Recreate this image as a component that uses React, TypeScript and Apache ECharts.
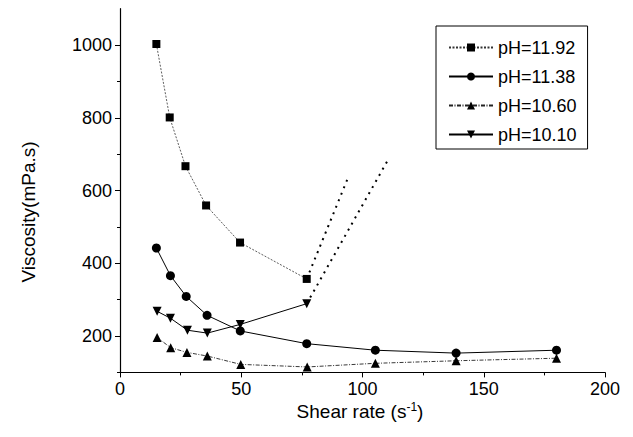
import React, { useEffect, useRef } from "react";
import * as echarts from "echarts";

const names = ["pH=11.92", "pH=11.38", "pH=10.60", "pH=10.10"];
const x1192 = [15, 20.5, 27, 35.5, 49.5, 77];
const y1192 = [1003, 801, 667, 559, 457, 357];
const x1138 = [15, 20.8, 27.3, 35.9, 49.6, 77, 105.3, 138.6, 180];
const y1138 = [442, 366, 309, 257, 214, 179, 161, 153, 161];
const x1060 = [15.3, 20.9, 27.6, 36, 49.8, 77.2, 105.3, 138.6, 180];
const y1060 = [196, 168, 155, 145, 122, 115, 125, 132, 139];
const x1010 = [15.3, 20.8, 27.8, 36, 49.6, 77];
const y1010 = [268, 249, 216, 208, 232, 289];
const ext1192x = [77, 94.2];
const ext1192y = [357, 638];
const ext1010x = [77, 111];
const ext1010y = [289, 690];
const yMajorTicks = [200, 400, 600, 800, 1000];
const yMinorTicks = [100, 300, 500, 700, 900];

const zip = (xs: number[], ys: number[]) => xs.map((x, i) => [x, ys[i]]);

const FONT = "Liberation Sans";

export default function App() {
  const ref = useRef<HTMLDivElement>(null);
  useEffect(() => {
    if (!ref.current) return;
    const chart = echarts.init(ref.current, null, { renderer: "svg" });
    const lineBase = { color: "#000", width: 1 };
    chart.setOption({
      animation: false,
      backgroundColor: "#fff",
      textStyle: { fontFamily: FONT, color: "#000" },
      grid: { left: 120, right: 28, top: 8.7, bottom: 64.6, containLabel: false },
      xAxis: {
        type: "value",
        min: 0,
        max: 200,
        interval: 50,
        axisLine: { show: true, lineStyle: { color: "#000", width: 1.2 } },
        axisTick: { show: true, length: 5, lineStyle: { color: "#000" } },
        minorTick: { show: true, splitNumber: 2, length: 3, lineStyle: { color: "#000" } },
        splitLine: { show: false },
        axisLabel: { fontSize: 18, color: "#000", margin: 8, fontFamily: FONT },
      },
      yAxis: [
        {
          type: "value",
          min: 100,
          max: 1100,
          interval: 100,
          axisLine: { show: true, lineStyle: { color: "#000", width: 1.2 } },
          axisTick: { show: true, length: 5, customValues: yMajorTicks, lineStyle: { color: "#000" } },
          splitLine: { show: false },
          axisLabel: {
            fontSize: 18,
            color: "#000",
            margin: 8,
            customValues: yMajorTicks,
            fontFamily: FONT,
            formatter: (v: number) => String(v),
          },
        },
        {
          type: "value",
          min: 100,
          max: 1100,
          interval: 100,
          position: "left",
          axisLine: { show: false },
          axisTick: { show: true, length: 3, customValues: yMinorTicks, lineStyle: { color: "#000" } },
          splitLine: { show: false },
          axisLabel: { show: false },
        },
      ],
      legend: {
        data: names,
        orient: "vertical",
        left: 436,
        top: 26,
        width: 150,
        padding: [12, 11, 5, 12],
        itemGap: 10,
        itemWidth: 44,
        itemHeight: 10,
        borderColor: "#000",
        borderWidth: 1,
        textStyle: { fontSize: 18, color: "#000", fontFamily: FONT, lineHeight: 19 },
      },
      graphic: [
        {
          type: "text",
          x: 28,
          y: 212,
          rotation: Math.PI / 2,
          style: {
            text: "Viscosity(mPa.s)",
            fontSize: 19,
            fontFamily: FONT,
            fill: "#000",
            align: "center",
            verticalAlign: "middle",
          },
        },
        {
          type: "text",
          x: 360,
          y: 411,
          style: {
            text: "Shear rate (s{sup|-1})",
            fontSize: 19,
            fontFamily: FONT,
            fill: "#000",
            align: "center",
            verticalAlign: "middle",
            rich: {
              sup: { fontSize: 12, fontFamily: FONT, fill: "#000", padding: [0, 0, 9, 0] },
            },
          },
        },
      ],
      series: [
        {
          name: names[0],
          type: "line",
          data: zip(x1192, y1192),
          symbol: "rect",
          symbolSize: 8,
          itemStyle: { color: "#000" },
          lineStyle: { ...lineBase, type: [2, 1.5], width: 0.8, color: "#333" },
        },
        {
          name: names[1],
          type: "line",
          data: zip(x1138, y1138),
          symbol: "circle",
          symbolSize: 9,
          itemStyle: { color: "#000" },
          lineStyle: { ...lineBase },
        },
        {
          name: names[2],
          type: "line",
          data: zip(x1060, y1060),
          symbol: "triangle",
          symbolSize: 9,
          itemStyle: { color: "#000" },
          lineStyle: { ...lineBase, type: [4, 1.5, 1, 1.5], width: 0.9, color: "#222" },
        },
        {
          name: names[3],
          type: "line",
          data: zip(x1010, y1010),
          symbol: "triangle",
          symbolRotate: 180,
          symbolSize: 9,
          itemStyle: { color: "#000" },
          lineStyle: { ...lineBase },
        },
        {
          name: "ext1",
          type: "line",
          data: zip(ext1192x, ext1192y),
          symbol: "none",
          lineStyle: { color: "#000", width: 2, type: [2, 5] },
          z: 1,
        },
        {
          name: "ext2",
          type: "line",
          data: zip(ext1010x, ext1010y),
          symbol: "none",
          lineStyle: { color: "#000", width: 2, type: [2, 5] },
          z: 1,
        },
      ],
    });
    return () => chart.dispose();
  }, []);
  return (
    <div
      ref={ref}
      style={{ position: "fixed", left: 0, top: 0, width: 633, height: 437 }}
    />
  );
}
